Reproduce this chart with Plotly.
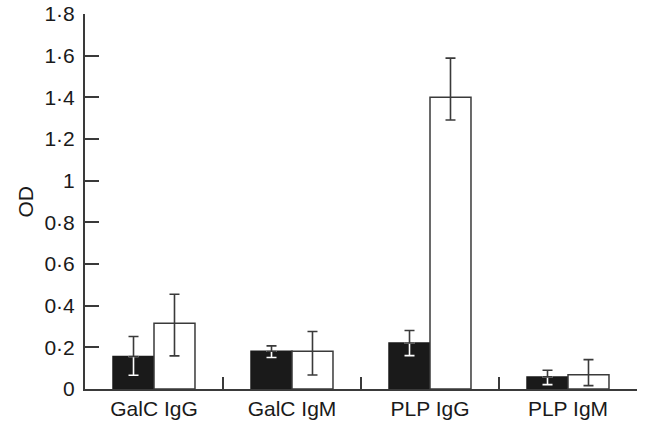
import plotly.graph_objects as go

categories = ["GalC IgG", "GalC IgM", "PLP IgG", "PLP IgM"]
black_vals = [0.156, 0.181, 0.221, 0.058]
black_err_plus = [0.096, 0.026, 0.060, 0.032]
black_err_minus = [0.090, 0.030, 0.061, 0.037]
white_vals = [0.316, 0.181, 1.40, 0.069]
white_err_plus = [0.139, 0.095, 0.188, 0.072]
white_err_minus = [0.157, 0.114, 0.109, 0.053]
y_tickvals = [0, 0.2, 0.4, 0.6, 0.8, 1.0, 1.2, 1.4, 1.6, 1.8]
y_ticktext = ["0", "0·2", "0·4", "0·6", "0·8", "1", "1·2", "1·4", "1·6", "1·8"]

edge = "#3a3a3a"
txt = "#1a1a1a"
fig = go.Figure()
fig.add_trace(go.Bar(
    x=categories, y=black_vals, offsetgroup="a",
    marker=dict(color="#1a1a1a", line=dict(color="#1a1a1a", width=1.5)),
    error_y=dict(type="data", symmetric=False, array=[0]*4, arrayminus=black_err_minus,
                 color="white", thickness=1.6, width=5),
    showlegend=False,
))
fig.add_trace(go.Bar(
    x=categories, y=black_vals, offsetgroup="a",
    marker=dict(color="rgba(0,0,0,0)", line=dict(width=0)),
    error_y=dict(type="data", symmetric=False, array=black_err_plus, arrayminus=[0]*4,
                 color=edge, thickness=1.6, width=5),
    showlegend=False,
))
fig.add_trace(go.Bar(
    x=categories, y=white_vals, offsetgroup="b",
    marker=dict(color="white", line=dict(color=edge, width=1.5)),
    error_y=dict(type="data", symmetric=False, array=white_err_plus, arrayminus=white_err_minus,
                 color=edge, thickness=1.6, width=5),
    showlegend=False,
))

font = "Liberation Sans, Arial, sans-serif"
fs = 21
fig.update_layout(
    width=648, height=425,
    margin=dict(l=85, r=11, t=14, b=36),
    paper_bgcolor="white", plot_bgcolor="white",
    barmode="group", bargap=0.406, bargroupgap=0,
    font=dict(family=font, size=fs, color=txt),
    xaxis=dict(
        type="category", range=[-0.5, 3.5], automargin=False,
        showline=True, linecolor=edge, linewidth=2,
        ticks="inside", tickson="boundaries", ticklen=12, tickcolor=edge, tickwidth=1.5,
        showgrid=False, zeroline=False,
        tickfont=dict(size=fs, family=font, color=txt),
    ),
    yaxis=dict(
        range=[0, 1.8], automargin=False,
        tickvals=y_tickvals, ticktext=y_ticktext,
        showline=True, linecolor=edge, linewidth=2,
        ticks="inside", ticklen=14, tickcolor=edge, tickwidth=1.5,
        ticklabelstandoff=4, ticklabeloverflow="allow",
        showgrid=False, zeroline=False,
        tickfont=dict(size=fs, family=font, color=txt),
    ),
    annotations=[dict(
        text="OD", textangle=-90, showarrow=False,
        xref="paper", yref="paper", x=0, y=0.5, xshift=-60,
        xanchor="center", yanchor="middle",
        font=dict(size=fs, family=font, color=txt),
    )],
)
fig.write_html("out.html", config={"displayModeBar": False},
               post_script="document.body.style.margin='0';document.body.style.overflow='hidden';")
